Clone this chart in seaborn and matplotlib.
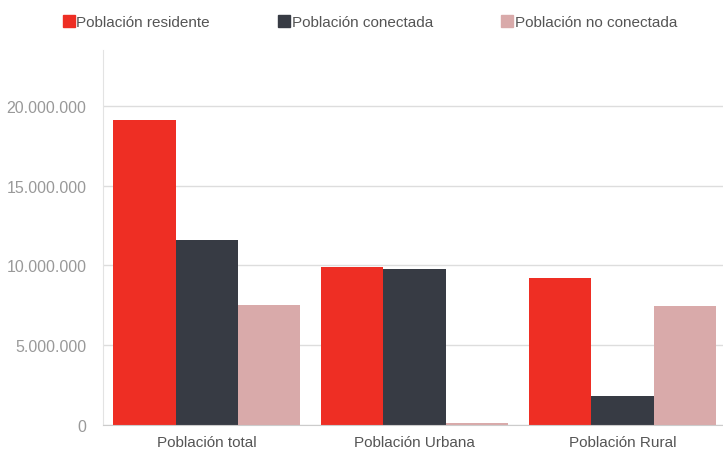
import pandas as pd, numpy as np
import matplotlib.pyplot as plt
import seaborn as sns
from matplotlib.ticker import FuncFormatter
from matplotlib.lines import Line2D

# Data
categorias = ['Población total', 'Población Urbana', 'Población Rural']
series = ['Población residente', 'Población conectada', 'Población no conectada']
residente = [19100000, 9890000, 9200000]
conectada = [11600000, 9800000, 1800000]
no_conectada = [7500000, 130000, 7450000]
colores = ['#EE2E24', '#373B44', '#D9AAAA']

df = pd.DataFrame({
    'categoria': categorias * 3,
    'serie': [series[0]] * 3 + [series[1]] * 3 + [series[2]] * 3,
    'valor': residente + conectada + no_conectada,
})

sns.set_style("white")
plt.rcParams['font.family'] = ['Liberation Sans', 'DejaVu Sans']

fig = plt.figure(figsize=(7.23, 4.52), dpi=100)
ax = fig.add_axes([0.1425, 0.0575, 0.862, 0.83])

sns.barplot(data=df, x='categoria', y='valor', hue='serie', palette=colores,
            width=0.9, saturation=1, ax=ax, legend=False, linewidth=0)

ax.set_xlim(-0.5, 2.5)
ax.set_ylim(0, 23500000)
ax.set_yticks([0, 5000000, 10000000, 15000000, 20000000])
ax.yaxis.set_major_formatter(FuncFormatter(lambda v, p: f'{int(v):,}'.replace(',', '.')))
ax.grid(axis='y', color='#DDDDDD', linewidth=1)
ax.set_axisbelow(True)
ax.set_xlabel('')
ax.set_ylabel('')
for s in ['top', 'right']:
    ax.spines[s].set_visible(False)
ax.spines['left'].set_color('#E3E3E3')
ax.spines['bottom'].set_color('#CCCCCC')
ax.tick_params(axis='y', length=0, labelsize=11.5, labelcolor='#999999', pad=12)
ax.tick_params(axis='x', length=0, labelsize=11, labelcolor='#555555', pad=7)

handles = [Line2D([], [], marker='s', linestyle='', markersize=8, color=c) for c in colores]
leg = fig.legend(handles, series, loc='upper center', bbox_to_anchor=(0.511, 0.995), ncol=3,
                 frameon=False, fontsize=11, handletextpad=0.05, columnspacing=4.4,
                 handlelength=0.9)
for t in leg.get_texts():
    t.set_color('#555555')

plt.savefig('out.png', dpi=100)
plt.close()
